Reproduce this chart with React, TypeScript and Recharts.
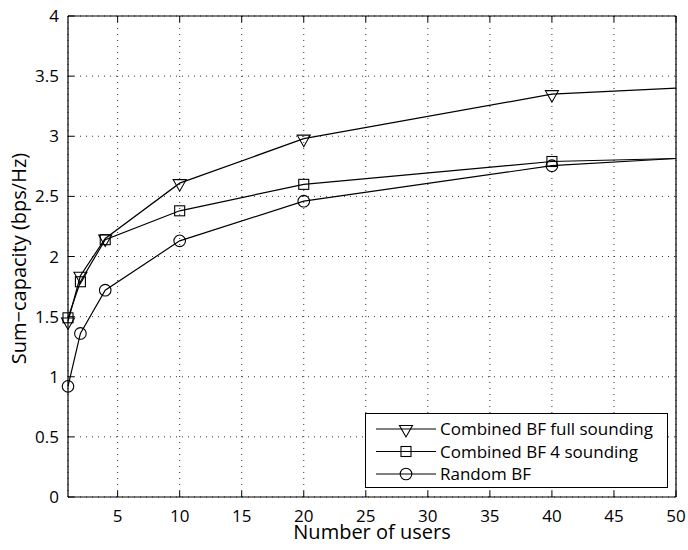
import React from 'react';
import { LineChart, Line, XAxis, YAxis, CartesianGrid, Legend } from 'recharts';

const users = [1, 2, 4, 10, 20, 40, 50];
const fullSounding = [1.46, 1.84, 2.15, 2.61, 2.98, 3.35, 3.4];
const fourSounding = [1.49, 1.79, 2.14, 2.38, 2.6, 2.79, 2.815];
const randomBF = [0.92, 1.36, 1.72, 2.13, 2.46, 2.755, 2.815];
const markedPoints = 6;

const xTicks = [5, 10, 15, 20, 25, 30, 35, 40, 45, 50];
const yTicks = [0, 0.5, 1, 1.5, 2, 2.5, 3, 3.5, 4];

const seriesKeys = ['full', 'four', 'random'];
const seriesNames = ['Combined BF full sounding', 'Combined BF 4 sounding', 'Random BF'];
const seriesMarkers = ['triangle', 'square', 'circle'];

const data = users.map((u, i) => ({
  users: u,
  full: fullSounding[i],
  four: fourSounding[i],
  random: randomBF[i],
}));

const FONT = "'Open Sans', sans-serif";

function Marker({ kind, cx, cy }: { kind: string; cx: number; cy: number }) {
  if (kind === 'triangle') {
    return (
      <polygon
        points={`${cx - 6.5},${cy - 3.5} ${cx + 6.5},${cy - 3.5} ${cx},${cy + 8}`}
        fill="none"
        stroke="#000"
        strokeWidth={1.1}
      />
    );
  }
  if (kind === 'square') {
    return <rect x={cx - 5} y={cy - 5} width={10} height={10} fill="none" stroke="#000" strokeWidth={1.1} />;
  }
  return <circle cx={cx} cy={cy} r={5.8} fill="none" stroke="#000" strokeWidth={1.1} />;
}

const makeDot = (kind: string) => (props: any) => {
  const { cx, cy, index } = props;
  if (index >= markedPoints || cx == null || cy == null) return <g key={`d-${kind}-${index}`} />;
  return (
    <g key={`d-${kind}-${index}`}>
      <Marker kind={kind} cx={cx} cy={cy} />
    </g>
  );
};

const BottomTick = (props: any) => {
  const { x, y, payload } = props;
  return (
    <g>
      <line x1={x} y1={y} x2={x} y2={y - 6} stroke="#000" />
      <text x={x} y={y + 25} textAnchor="middle" fontSize={17} fontFamily={FONT} fill="#000">
        {payload.value}
      </text>
    </g>
  );
};

const TopTick = (props: any) => {
  const { x, y } = props;
  return <line x1={x} y1={y} x2={x} y2={y + 6} stroke="#000" />;
};

const LeftTick = (props: any) => {
  const { x, y, payload } = props;
  return (
    <g>
      <line x1={x} y1={y} x2={x + 6} y2={y} stroke="#000" />
      <text x={x - 9} y={y + 6} textAnchor="end" fontSize={17} fontFamily={FONT} fill="#000">
        {payload.value}
      </text>
    </g>
  );
};

const RightTick = (props: any) => {
  const { x, y } = props;
  return <line x1={x} y1={y} x2={x - 6} y2={y} stroke="#000" />;
};

const LegendBox = () => {
  return (
    <div
      style={{
        width: 303,
        height: 75,
        boxSizing: 'border-box',
        border: '1px solid #000',
        background: '#fff',
      }}
    >
      <svg width={301} height={73} style={{ display: 'block' }}>
        {seriesKeys.map((k, i) => {
          const cy = 15 + i * 22.5;
          return (
            <g key={k}>
              <line x1={10} y1={cy} x2={70} y2={cy} stroke="#000" strokeWidth={1.1} />
              <Marker kind={seriesMarkers[i]} cx={40} cy={cy} />
              <text x={74} y={cy + 6} fontSize={17} fontFamily={FONT} fill="#000">
                {seriesNames[i]}
              </text>
            </g>
          );
        })}
      </svg>
    </div>
  );
};

export default function App() {
  return (
    <div style={{ position: 'absolute', left: 0, top: 0, width: 688, height: 550, background: '#fff' }}>
      <LineChart width={688} height={550} data={data} margin={{ top: 15, right: 11, bottom: 0, left: 0 }}>
        <CartesianGrid stroke="#333" strokeDasharray="1 5" strokeWidth={1} />
        <XAxis
          dataKey="users"
          type="number"
          domain={[1, 50]}
          ticks={xTicks}
          interval={0}
          height={53}
          tickSize={0}
          tickMargin={0}
          tickLine={false}
          axisLine={{ stroke: '#000', strokeWidth: 1.2 }}
          tick={BottomTick}
          label={{
            content: (p: any) => {
              const vb = p.viewBox || { x: 68, y: 497, width: 608, height: 53 };
              return (
                <text x={vb.x + vb.width / 2} y={vb.y + 42} textAnchor="middle" fontSize={20} fontFamily={FONT} fill="#000">
                  Number of users
                </text>
              );
            },
          }}
        />
        <XAxis
          xAxisId="top"
          dataKey="users"
          type="number"
          orientation="top"
          domain={[1, 50]}
          ticks={xTicks}
          interval={0}
          height={1}
          tickSize={0}
          tickMargin={0}
          tickLine={false}
          axisLine={{ stroke: '#000', strokeWidth: 1.2 }}
          tick={TopTick}
        />
        <YAxis
          type="number"
          domain={[0, 4]}
          ticks={yTicks}
          interval={0}
          width={68}
          tickSize={0}
          tickMargin={0}
          tickLine={false}
          axisLine={{ stroke: '#000', strokeWidth: 1.2 }}
          tick={LeftTick}
          label={{
            content: (p: any) => {
              const vb = p.viewBox || { x: 0, y: 16, width: 68, height: 481 };
              const cx = vb.x + 18;
              const cy = vb.y + vb.height / 2 + 2;
              return (
                <text
                  x={cx}
                  y={cy}
                  transform={`rotate(-90, ${cx}, ${cy})`}
                  textAnchor="middle"
                  dominantBaseline="central"
                  fontSize={20}
                  fontFamily={FONT}
                  fill="#000"
                >
                  Sum−capacity (bps/Hz)
                </text>
              );
            },
          }}
        />
        <YAxis
          yAxisId="right"
          orientation="right"
          type="number"
          domain={[0, 4]}
          ticks={yTicks}
          interval={0}
          width={1}
          tickSize={0}
          tickMargin={0}
          tickLine={false}
          axisLine={{ stroke: '#000', strokeWidth: 1.2 }}
          tick={RightTick}
        />
        {seriesKeys.map((k, i) => (
          <Line
            key={k}
            dataKey={k}
            name={seriesNames[i]}
            type="linear"
            stroke="#000"
            strokeWidth={1.2}
            dot={makeDot(seriesMarkers[i])}
            activeDot={false}
            isAnimationActive={false}
          />
        ))}
        <Legend
          layout="horizontal"
          verticalAlign="middle"
          align="center"
          content={LegendBox}
          wrapperStyle={{ position: 'absolute', left: 365, top: 413, width: 303, height: 75 }}
        />
      </LineChart>
    </div>
  );
}
